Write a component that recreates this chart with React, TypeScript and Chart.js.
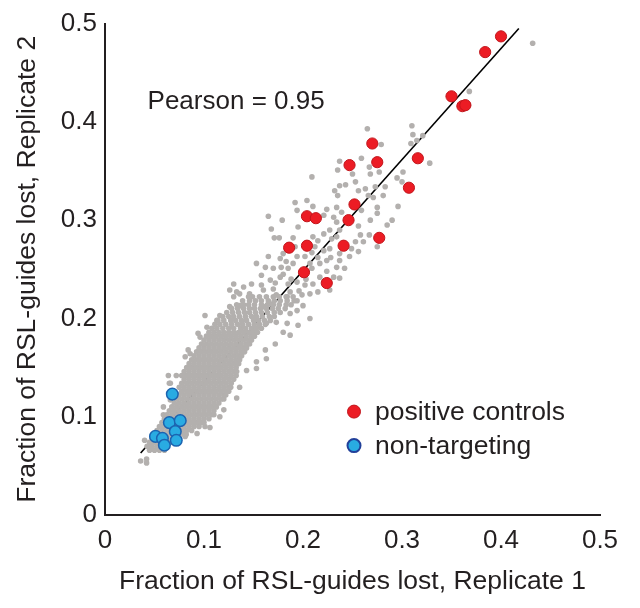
import React, { useEffect, useRef } from 'react';
import { Chart, registerables } from 'chart.js';

Chart.register(...registerables);

const FONT = '"Liberation Sans", Arial, Helvetica, sans-serif';
const TEXT = '#231f20';
const AXIS = '#231f20';

const xTicks = [0, 0.1, 0.2, 0.3, 0.4, 0.5];
const yTicks = [0, 0.1, 0.2, 0.3, 0.4, 0.5];
const xTitle = 'Fraction of RSL-guides lost, Replicate 1';
const yTitle = 'Fraction of RSL-guides lost, Replicate 2';
const pearsonLabel = 'Pearson = 0.95';
const pearsonPos: [number, number] = [0.043, 0.42];
const legendLabels = ['positive controls', 'non-targeting'];

// positive control guides (Replicate 1, Replicate 2)
const positiveControls: [number, number][] = [
  [0.400, 0.487], [0.384, 0.471], [0.350, 0.426], [0.361, 0.416], [0.364, 0.417],
  [0.270, 0.378], [0.247, 0.356], [0.275, 0.359], [0.316, 0.363], [0.307, 0.333],
  [0.252, 0.316], [0.204, 0.304], [0.213, 0.302], [0.246, 0.300], [0.277, 0.282],
  [0.186, 0.272], [0.204, 0.274], [0.241, 0.274], [0.201, 0.247], [0.224, 0.236],
];

// non-targeting guides
const nonTargeting: [number, number][] = [
  [0.068, 0.123], [0.065, 0.094], [0.076, 0.096], [0.071, 0.085],
  [0.051, 0.080], [0.058, 0.078], [0.072, 0.076], [0.060, 0.071],
];

// regression line end points
const fitLine: [number, number][] = [[0.036, 0.063], [0.418, 0.495]];

// all other guides: scattered points
const grayScatter: [number, number][] = [
  [0.432, 0.480], [0.368, 0.431], [0.367, 0.417], [0.265, 0.393], [0.310, 0.396], [0.311, 0.387],
  [0.309, 0.378], [0.315, 0.381], [0.321, 0.386], [0.279, 0.377], [0.328, 0.358],
  [0.237, 0.360], [0.235, 0.351], [0.259, 0.363], [0.267, 0.354], [0.268, 0.347], [0.277, 0.349],
  [0.250, 0.347], [0.253, 0.339], [0.243, 0.336], [0.256, 0.330], [0.263, 0.332], [0.266, 0.325],
  [0.237, 0.335], [0.232, 0.330], [0.235, 0.325], [0.209, 0.344], [0.301, 0.349], [0.295, 0.343],
  [0.300, 0.339], [0.273, 0.334], [0.283, 0.334], [0.281, 0.325], [0.271, 0.323], [0.275, 0.313],
  [0.275, 0.307], [0.296, 0.314], [0.290, 0.300], [0.285, 0.295], [0.268, 0.300], [0.259, 0.310],
  [0.192, 0.318], [0.204, 0.320], [0.210, 0.314], [0.194, 0.310], [0.224, 0.311], [0.221, 0.305],
  [0.234, 0.313], [0.239, 0.308], [0.231, 0.303], [0.234, 0.298],
  [0.165, 0.304], [0.179, 0.300], [0.195, 0.293], [0.168, 0.291], [0.171, 0.282], [0.176, 0.282],
  [0.190, 0.282], [0.210, 0.283], [0.215, 0.279], [0.221, 0.286], [0.227, 0.290], [0.229, 0.281],
  [0.237, 0.290], [0.234, 0.283], [0.256, 0.294], [0.258, 0.285], [0.267, 0.285], [0.275, 0.273],
  [0.261, 0.278], [0.253, 0.278], [0.256, 0.268], [0.249, 0.271], [0.237, 0.266], [0.227, 0.271],
  [0.221, 0.269], [0.212, 0.273], [0.209, 0.267], [0.202, 0.263], [0.194, 0.263], [0.192, 0.273],
  [0.180, 0.266], [0.177, 0.261], [0.165, 0.263], [0.153, 0.256], [0.162, 0.252], [0.170, 0.251],
  [0.178, 0.252], [0.185, 0.251], [0.190, 0.256], [0.209, 0.251], [0.217, 0.256], [0.224, 0.259],
  [0.237, 0.259], [0.242, 0.251], [0.234, 0.252], [0.247, 0.263],
  [0.217, 0.242], [0.231, 0.242], [0.237, 0.241], [0.210, 0.235], [0.202, 0.234], [0.194, 0.237],
  [0.185, 0.235], [0.177, 0.242], [0.167, 0.239], [0.158, 0.244], [0.148, 0.235], [0.140, 0.232],
  [0.130, 0.235], [0.133, 0.227], [0.146, 0.225], [0.160, 0.229], [0.170, 0.230], [0.187, 0.227],
  [0.199, 0.224], [0.207, 0.225], [0.215, 0.227], [0.227, 0.229], [0.136, 0.225], [0.145, 0.222],
  [0.130, 0.222], [0.180, 0.245], [0.200, 0.246], [0.215, 0.262], [0.228, 0.262], [0.196, 0.228],
  [0.188, 0.240], [0.203, 0.240], [0.224, 0.248], [0.172, 0.236], [0.158, 0.234], [0.207, 0.256],
  [0.183, 0.258],
  [0.101, 0.203], [0.103, 0.191], [0.113, 0.198], [0.094, 0.185], [0.096, 0.181], [0.084, 0.168],
  [0.086, 0.164], [0.081, 0.161], [0.079, 0.142], [0.066, 0.134], [0.066, 0.117], [0.059, 0.102],
  [0.072, 0.142], [0.064, 0.142], [0.040, 0.076], [0.045, 0.068], [0.036, 0.055], [0.042, 0.057],
  [0.042, 0.053], [0.059, 0.110], [0.065, 0.134],
  [0.180, 0.186], [0.187, 0.183], [0.172, 0.174], [0.162, 0.168], [0.163, 0.159], [0.153, 0.156],
  [0.153, 0.149], [0.143, 0.147], [0.136, 0.130], [0.133, 0.119], [0.120, 0.107], [0.116, 0.100],
  [0.101, 0.090], [0.093, 0.083], [0.081, 0.080], [0.163, 0.195], [0.173, 0.196], [0.184, 0.195],
  [0.187, 0.205], [0.194, 0.208], [0.160, 0.212], [0.167, 0.215], [0.136, 0.213], [0.126, 0.212],
  [0.116, 0.203], [0.126, 0.229], [0.173, 0.224], [0.184, 0.222], [0.194, 0.218], [0.200, 0.213],
  [0.207, 0.200], [0.195, 0.193], [0.106, 0.089],
];

// all other guides: dense core, listed row by row (Replicate 2 value, Replicate 1 values)
const grayCoreRows: [number, number[]][] = [
  [0.066, [0.045, 0.050, 0.055, 0.060]],
  [0.070, [0.0425, 0.0475, 0.0525, 0.0575, 0.0625]],
  [0.074, [0.045, 0.050, 0.055, 0.060, 0.065, 0.068]],
  [0.078, [0.0475, 0.0525, 0.0575, 0.0625, 0.0675, 0.0725, 0.075]],
  [0.082, [0.050, 0.055, 0.060, 0.065, 0.070, 0.075, 0.080, 0.082]],
  [0.086, [0.0525, 0.0575, 0.0625, 0.0675, 0.0725, 0.0775, 0.0825, 0.0875]],
  [0.090, [0.055, 0.060, 0.065, 0.070, 0.075, 0.080, 0.085, 0.090, 0.095]],
  [0.094, [0.0575, 0.0625, 0.0675, 0.0725, 0.0775, 0.0825, 0.0875, 0.0925, 0.0975, 0.100]],
  [0.098, [0.060, 0.065, 0.070, 0.075, 0.080, 0.085, 0.090, 0.095, 0.100, 0.105]],
  [0.102, [0.0625, 0.0675, 0.0725, 0.0775, 0.0825, 0.0875, 0.0925, 0.0975, 0.1025, 0.1075, 0.110]],
  [0.106, [0.065, 0.070, 0.075, 0.080, 0.085, 0.090, 0.095, 0.100, 0.105, 0.110]],
  [0.110, [0.0675, 0.0725, 0.0775, 0.0825, 0.0875, 0.0925, 0.0975, 0.1025, 0.1075, 0.1125]],
  [0.114, [0.070, 0.075, 0.080, 0.085, 0.090, 0.095, 0.100, 0.105, 0.110, 0.115]],
  [0.118, [0.0725, 0.0775, 0.0825, 0.0875, 0.0925, 0.0975, 0.1025, 0.1075, 0.1125, 0.1175, 0.120]],
  [0.122, [0.075, 0.080, 0.085, 0.090, 0.095, 0.100, 0.105, 0.110, 0.115, 0.120, 0.122]],
  [0.126, [0.0775, 0.0825, 0.0875, 0.0925, 0.0975, 0.1025, 0.1075, 0.1125, 0.1175, 0.1225, 0.125]],
  [0.130, [0.075, 0.080, 0.085, 0.090, 0.095, 0.100, 0.105, 0.110, 0.115, 0.120, 0.125, 0.127]],
  [0.134, [0.0775, 0.0825, 0.0875, 0.0925, 0.0975, 0.1025, 0.1075, 0.1125, 0.1175, 0.1225, 0.1275]],
  [0.138, [0.080, 0.085, 0.090, 0.095, 0.100, 0.105, 0.110, 0.115, 0.120, 0.125, 0.130]],
  [0.142, [0.0775, 0.0825, 0.0875, 0.0925, 0.0975, 0.1025, 0.1075, 0.1125, 0.1175, 0.1225, 0.1275, 0.1325]],
  [0.146, [0.080, 0.085, 0.090, 0.095, 0.100, 0.105, 0.110, 0.115, 0.120, 0.125, 0.130, 0.133]],
  [0.150, [0.0825, 0.0875, 0.0925, 0.0975, 0.1025, 0.1075, 0.1125, 0.1175, 0.1225, 0.1275, 0.1325]],
  [0.154, [0.085, 0.090, 0.095, 0.100, 0.105, 0.110, 0.115, 0.120, 0.125, 0.130, 0.135]],
  [0.158, [0.0875, 0.0925, 0.0975, 0.1025, 0.1075, 0.1125, 0.1175, 0.1225, 0.1275, 0.1325, 0.136]],
  [0.162, [0.090, 0.095, 0.100, 0.105, 0.110, 0.115, 0.120, 0.125, 0.130, 0.135, 0.138]],
  [0.166, [0.0925, 0.0975, 0.1025, 0.1075, 0.1125, 0.1175, 0.1225, 0.1275, 0.1325, 0.1375, 0.141]],
  [0.170, [0.095, 0.100, 0.105, 0.110, 0.115, 0.120, 0.125, 0.130, 0.135, 0.140, 0.143]],
  [0.174, [0.0975, 0.1025, 0.1075, 0.1125, 0.1175, 0.1225, 0.1275, 0.1325, 0.1375, 0.1425, 0.146]],
  [0.178, [0.100, 0.105, 0.110, 0.115, 0.120, 0.125, 0.130, 0.135, 0.140, 0.145, 0.148]],
  [0.182, [0.1025, 0.1075, 0.1125, 0.1175, 0.1225, 0.1275, 0.1325, 0.1375, 0.1425, 0.1475, 0.151]],
  [0.186, [0.105, 0.110, 0.115, 0.120, 0.125, 0.130, 0.135, 0.140, 0.145, 0.150, 0.154]],
  [0.190, [0.108, 0.113, 0.119, 0.125, 0.130, 0.137, 0.142, 0.148, 0.153, 0.158]],
  [0.194, [0.111, 0.116, 0.122, 0.128, 0.134, 0.139, 0.145, 0.151, 0.156, 0.162]],
  [0.198, [0.114, 0.120, 0.127, 0.132, 0.138, 0.143, 0.150, 0.155, 0.161, 0.167]],
  [0.202, [0.119, 0.125, 0.130, 0.136, 0.142, 0.148, 0.153, 0.159, 0.166, 0.171]],
  [0.206, [0.123, 0.129, 0.135, 0.141, 0.146, 0.152, 0.158, 0.164, 0.171, 0.177]],
  [0.210, [0.128, 0.134, 0.140, 0.146, 0.151, 0.157, 0.163, 0.169, 0.175, 0.182]],
  [0.214, [0.133, 0.140, 0.145, 0.151, 0.158, 0.164, 0.170, 0.176, 0.183, 0.188]],
  [0.218, [0.139, 0.146, 0.152, 0.158, 0.165, 0.171, 0.177, 0.184, 0.191]],
  [0.222, [0.149, 0.156, 0.163, 0.170, 0.176, 0.183, 0.190]],
];

const RED = '#ec1c24';
const RED_EDGE = '#c1161c';
const BLUE = '#29abe2';
const BLUE_EDGE = '#1b63b0';
const GRAY = '#b3b0ae';

const fmt = (v: number) => (v === 0 ? '0' : Number(v).toFixed(1));

const annotationPlugin = {
  id: 'annotations',
  afterDraw(chart: any) {
    const { ctx, chartArea, scales } = chart;
    ctx.save();
    ctx.font = `26px ${FONT}`;
    ctx.fillStyle = TEXT;
    ctx.textBaseline = 'middle';
    ctx.textAlign = 'left';
    ctx.fillText(
      pearsonLabel,
      scales.x.getPixelForValue(pearsonPos[0]),
      scales.y.getPixelForValue(pearsonPos[1])
    );
    ctx.font = `26.5px ${FONT}`;
    const items = [
      { label: legendLabels[0], fill: RED, edge: RED_EDGE, lw: 1 },
      { label: legendLabels[1], fill: BLUE, edge: '#21409a', lw: 2 },
    ];
    const cx = chartArea.left + 249;
    const cy0 = chartArea.top + 388;
    items.forEach((it, i) => {
      const cy = cy0 + i * 34;
      ctx.beginPath();
      ctx.arc(cx, cy, 6.5, 0, Math.PI * 2);
      ctx.fillStyle = it.fill;
      ctx.fill();
      ctx.lineWidth = it.lw;
      ctx.strokeStyle = it.edge;
      ctx.stroke();
      ctx.fillStyle = TEXT;
      ctx.fillText(it.label, cx + 21, cy + 1);
    });
    ctx.restore();
  },
};

export default function App() {
  const canvasRef = useRef<HTMLCanvasElement | null>(null);

  useEffect(() => {
    const canvas = canvasRef.current;
    if (!canvas) return;

    const grayPoints: { x: number; y: number }[] = grayScatter.map(([x, y]) => ({ x, y }));
    grayCoreRows.forEach(([y, xs]) => xs.forEach((x) => grayPoints.push({ x, y })));

    const chart = new Chart(canvas, {
      type: 'scatter',
      data: {
        datasets: [
          {
            label: legendLabels[0],
            data: positiveControls.map(([x, y]) => ({ x, y })),
            backgroundColor: RED,
            borderColor: RED_EDGE,
            borderWidth: 1,
            pointRadius: 5.6,
          },
          {
            label: legendLabels[1],
            data: nonTargeting.map(([x, y]) => ({ x, y })),
            backgroundColor: BLUE,
            borderColor: BLUE_EDGE,
            borderWidth: 1.5,
            pointRadius: 5.8,
          },
          {
            label: 'all guides',
            data: grayPoints,
            backgroundColor: GRAY,
            borderWidth: 0,
            pointRadius: 2.8,
          },
          {
            label: 'fit',
            data: fitLine.map(([x, y]) => ({ x, y })),
            showLine: true,
            borderColor: '#000000',
            borderWidth: 1.6,
            pointRadius: 0,
            fill: false,
          },
        ],
      },
      options: {
        animation: false,
        responsive: false,
        devicePixelRatio: 1,
        events: [],
        layout: { padding: { top: 23, right: 40, bottom: 0, left: 0 } },
        plugins: {
          legend: { display: false },
          tooltip: { enabled: false },
        },
        scales: {
          x: {
            type: 'linear',
            min: 0,
            max: 0.5,
            afterBuildTicks: (s: any) => {
              s.ticks = xTicks.map((v) => ({ value: v }));
            },
            afterFit: (s: any) => {
              s.height = 93;
            },
            grid: { display: false, drawTicks: false },
            border: { display: true, color: AXIS, width: 2 },
            ticks: {
              autoSkip: false,
              maxRotation: 0,
              padding: 10,
              color: TEXT,
              font: { family: FONT, size: 26 },
              callback: (v: any) => fmt(Number(v)),
            },
            title: {
              display: true,
              text: xTitle,
              color: TEXT,
              font: { family: FONT, size: 26.5 },
              padding: { top: 0, bottom: 10 },
            },
          },
          y: {
            type: 'linear',
            min: 0,
            max: 0.5,
            afterBuildTicks: (s: any) => {
              s.ticks = yTicks.map((v) => ({ value: v }));
            },
            afterFit: (s: any) => {
              s.width = 105;
            },
            grid: { display: false, drawTicks: false },
            border: { display: true, color: AXIS, width: 2 },
            ticks: {
              autoSkip: false,
              padding: 8,
              color: TEXT,
              font: { family: FONT, size: 26 },
              callback: (v: any) => fmt(Number(v)),
            },
            title: {
              display: true,
              text: yTitle,
              color: TEXT,
              font: { family: FONT, size: 26.5 },
              padding: { top: 12, bottom: 0 },
            },
          },
        },
      },
      plugins: [annotationPlugin],
    } as any);

    return () => chart.destroy();
  }, []);

  return (
    <div style={{ position: 'absolute', left: 0, top: 0, width: 640, height: 608, background: '#ffffff' }}>
      <canvas ref={canvasRef} width={640} height={608} style={{ display: 'block' }} />
    </div>
  );
}
